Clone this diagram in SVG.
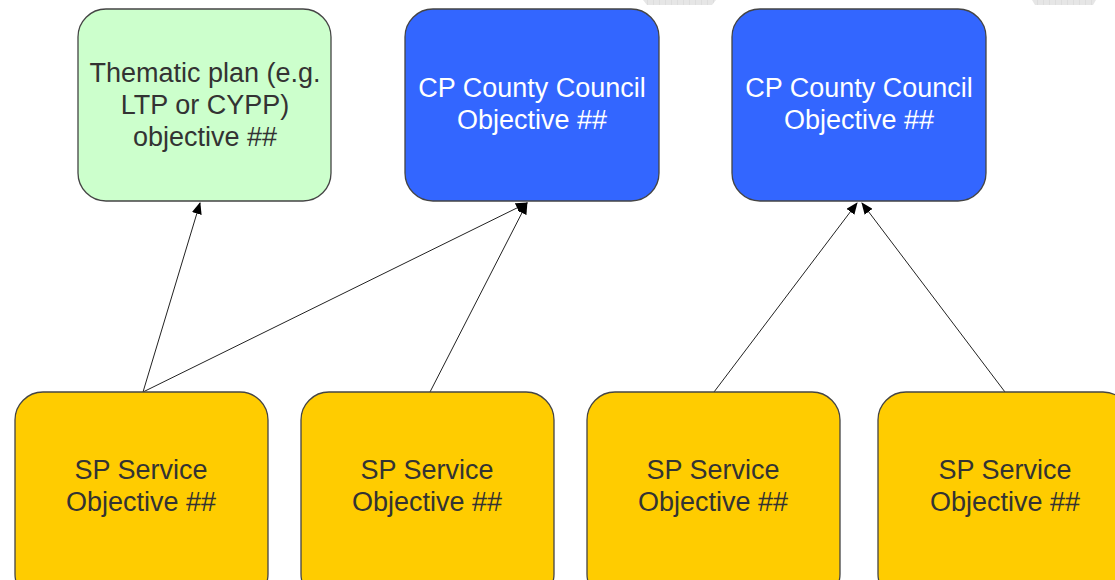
<svg xmlns="http://www.w3.org/2000/svg" width="1115" height="580" viewBox="0 0 1115 580">
<defs>
<style>
.box{stroke:#444;stroke-width:1.3}
.green{fill:#ccffcc}
.blue{fill:#3366ff}
.yellow{fill:#ffcc00}
.t{font-family:"Liberation Sans",Arial,sans-serif;font-size:27px;text-anchor:middle}
.dark{fill:#333}
.white{fill:#fff}
.edge{stroke:#222;stroke-width:1;fill:none;marker-end:url(#arr)}
</style>
<marker id="arr" viewBox="0 0 12 10" refX="11" refY="5" markerWidth="12" markerHeight="10" markerUnits="userSpaceOnUse" orient="auto">
<path d="M0,0 L12,5 L0,10 z" fill="#000"/>
</marker>
<pattern id="grid" width="6" height="6" patternUnits="userSpaceOnUse">
<rect width="6" height="6" fill="#e6e6e6"/>
<path d="M6,0 V6 M0,6 H6" stroke="#c8c8c8" stroke-width="0.6"/>
</pattern>
</defs>
<rect width="1115" height="580" fill="#fff"/>
<polygon points="643,0 716,0 712,5 647,5" fill="url(#grid)"/>
<polygon points="1032,0 1096,0 1093,5 1035,5" fill="url(#grid)"/>
<g id="connectors">
<line class="edge" x1="143" y1="392" x2="200" y2="203"/>
<line class="edge" x1="143" y1="392" x2="527" y2="203"/>
<line class="edge" x1="430" y1="392" x2="527" y2="203"/>
<line class="edge" x1="714" y1="392" x2="857" y2="203"/>
<line class="edge" x1="1005" y1="392" x2="862" y2="203"/>
</g>
<g id="thematic">
<rect class="box green" x="78" y="9" width="253" height="192" rx="28"/>
<text class="t dark" x="205" y="82">Thematic plan (e.g.</text>
<text class="t dark" x="205" y="114">LTP or CYPP)</text>
<text class="t dark" x="205" y="146">objective ##</text>
</g>
<g id="cp1">
<rect class="box blue" x="405" y="9" width="254" height="192" rx="28"/>
<text class="t white" x="532" y="97">CP County Council</text>
<text class="t white" x="532" y="129">Objective ##</text>
</g>
<g id="cp2">
<rect class="box blue" x="732" y="9" width="254" height="192" rx="28"/>
<text class="t white" x="859" y="97">CP County Council</text>
<text class="t white" x="859" y="129">Objective ##</text>
</g>
<g id="sp1">
<rect class="box yellow" x="15" y="392" width="253" height="210" rx="28"/>
<text class="t dark" x="141" y="479">SP Service</text>
<text class="t dark" x="141" y="511">Objective ##</text>
</g>
<g id="sp2">
<rect class="box yellow" x="301" y="392" width="253" height="210" rx="28"/>
<text class="t dark" x="427" y="479">SP Service</text>
<text class="t dark" x="427" y="511">Objective ##</text>
</g>
<g id="sp3">
<rect class="box yellow" x="587" y="392" width="253" height="210" rx="28"/>
<text class="t dark" x="713" y="479">SP Service</text>
<text class="t dark" x="713" y="511">Objective ##</text>
</g>
<g id="sp4">
<rect class="box yellow" x="878" y="392" width="253" height="210" rx="28"/>
<text class="t dark" x="1005" y="479">SP Service</text>
<text class="t dark" x="1005" y="511">Objective ##</text>
</g>
</svg>
